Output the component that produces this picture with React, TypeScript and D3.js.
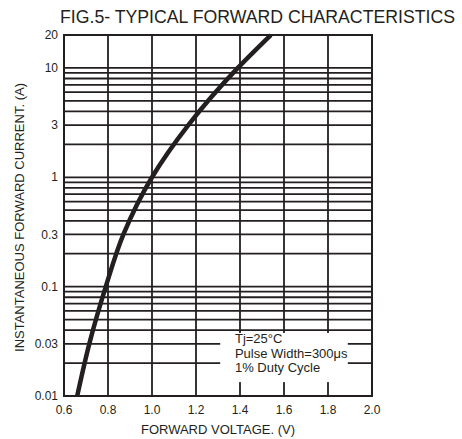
import React, { useEffect, useRef } from 'react';
import * as d3 from 'd3';

// forward voltage (V) vs instantaneous forward current (A)
const voltage = [0.66, 0.715, 0.79, 0.87, 1.0, 1.165, 1.39, 1.54];
const current = [0.01, 0.03, 0.1, 0.3, 1, 3, 10, 20];

const xTicks = [0.6, 0.8, 1.0, 1.2, 1.4, 1.6, 1.8, 2.0];
const yTicks = [0.01, 0.03, 0.1, 0.3, 1, 3, 10, 20];
const yTickLabels = ['0.01', '0.03', '0.1', '0.3', '1', '3', '10', '20'];
const noteLines = ['Tj=25\u00B0C', 'Pulse Width=300\u03BCs', '1% Duty Cycle'];

const W = 462;
const H = 439;
const INK = '#231f20';
const FONT = '"Liberation Sans", Arial, Helvetica, sans-serif';

const App = () => {
    const ref = useRef<SVGSVGElement | null>(null);

    useEffect(() => {
        const svg = d3.select(ref.current);
        svg.selectAll('*').remove();

        const margin = { top: 35, bottom: 43, left: 64, right: 90 };

        const x = d3.scaleLinear()
            .domain([0.6, 2.0])
            .range([margin.left, W - margin.right]);

        const y = d3.scaleLog()
            .domain([0.01, 20])
            .range([H - margin.bottom, margin.top]);

        // horizontal grid: 2..9 in each decade, plus the decade line
        const hGrid: number[] = [];
        [0.01, 0.1, 1].forEach(dec => {
            for (let k = 2; k <= 9; k++) hGrid.push(dec * k);
            hGrid.push(dec * 10);
        });

        const grid = svg.append('g').attr('stroke', INK).attr('stroke-width', 1.8);

        grid.selectAll('line.h')
            .data(hGrid)
            .join('line')
            .attr('class', 'h')
            .attr('x1', x(0.6))
            .attr('x2', x(2.0))
            .attr('y1', d => y(d))
            .attr('y2', d => y(d));

        grid.selectAll('line.v')
            .data(xTicks.slice(1, -1))
            .join('line')
            .attr('class', 'v')
            .attr('x1', d => x(d))
            .attr('x2', d => x(d))
            .attr('y1', y(20))
            .attr('y2', y(0.01));

        // note box blanks out the grid behind it
        const box = svg.append('g');
        box.append('rect')
            .attr('x', x(1.31))
            .attr('y', y(0.0377))
            .attr('width', x(1.89) - x(1.31))
            .attr('height', y(0.0134) - y(0.0377))
            .attr('fill', '#fff');

        box.selectAll('text')
            .data(noteLines)
            .join('text')
            .attr('x', x(1.377))
            .attr('y', (d, i) => y(0.0377) + 10.5 + i * 14.5)
            .attr('font-family', FONT)
            .attr('font-size', 13)
            .attr('fill', INK)
            .text(d => d);

        svg.append('rect')
            .attr('x', x(0.6))
            .attr('y', y(20))
            .attr('width', x(2.0) - x(0.6))
            .attr('height', y(0.01) - y(20))
            .attr('fill', 'none')
            .attr('stroke', INK)
            .attr('stroke-width', 2);

        const pts = voltage.map((v, i) => [v, current[i]] as [number, number]);
        const line = d3.line<[number, number]>()
            .x(d => x(d[0]))
            .y(d => y(d[1]))
            .curve(d3.curveMonotoneY);

        svg.append('path')
            .datum(pts)
            .attr('d', line)
            .attr('fill', 'none')
            .attr('stroke', INK)
            .attr('stroke-width', 4.5);

        // tick labels
        svg.append('g')
            .selectAll('text')
            .data(yTicks)
            .join('text')
            .attr('x', margin.left - 6)
            .attr('y', d => y(d))
            .attr('dy', '0.35em')
            .attr('text-anchor', 'end')
            .attr('font-family', FONT)
            .attr('font-size', 12)
            .attr('fill', INK)
            .text((d, i) => yTickLabels[i]);

        svg.append('g')
            .selectAll('text')
            .data(xTicks)
            .join('text')
            .attr('x', d => x(d))
            .attr('y', y(0.01) + 18)
            .attr('text-anchor', 'middle')
            .attr('font-family', FONT)
            .attr('font-size', 12)
            .attr('fill', INK)
            .text(d => d.toFixed(1));

        // titles
        svg.append('text')
            .attr('x', 60)
            .attr('y', 23)
            .attr('font-family', FONT)
            .attr('font-size', 18)
            .attr('fill', INK)
            .attr('textLength', 395)
            .attr('lengthAdjust', 'spacingAndGlyphs')
            .text('FIG.5- TYPICAL FORWARD CHARACTERISTICS');

        svg.append('text')
            .attr('x', (x(0.6) + x(2.0)) / 2)
            .attr('y', 434)
            .attr('text-anchor', 'middle')
            .attr('font-family', FONT)
            .attr('font-size', 13)
            .attr('fill', INK)
            .text('FORWARD VOLTAGE. (V)');

        svg.append('text')
            .attr('transform', `translate(24, ${(y(0.01) + y(20)) / 2 + 2}) rotate(-90)`)
            .attr('text-anchor', 'middle')
            .attr('font-family', FONT)
            .attr('font-size', 13)
            .attr('fill', INK)
            .text('INSTANTANEOUS FORWARD CURRENT. (A)');
    }, []);

    return (
        <svg ref={ref} width={W} height={H} style={{ display: 'block', position: 'absolute', left: 0, top: 0 }} />
    );
};

export default App;
